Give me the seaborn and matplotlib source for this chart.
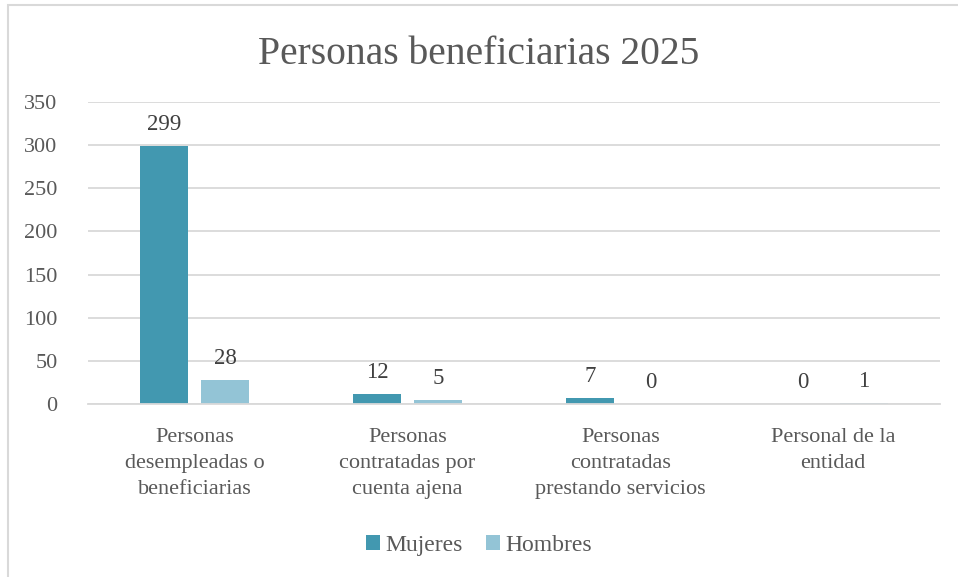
import matplotlib
matplotlib.use("Agg")
import matplotlib.pyplot as plt
import seaborn as sns
import pandas as pd
from matplotlib.patches import Rectangle

categories = [
    "Personas\ndesempleadas o\nbeneficiarias",
    "Personas\ncontratadas por\ncuenta ajena",
    "Personas\ncontratadas\nprestando servicios",
    "Personal de la\nentidad",
]
mujeres = [299, 12, 7, 0]
hombres = [28, 5, 0, 1]
series = ["Mujeres", "Hombres"]
colors = ["#4298B0", "#93C4D6"]
yticks = [0, 50, 100, 150, 200, 250, 300, 350]

df = pd.DataFrame({
    "categoria": categories * 2,
    "valor": mujeres + hombres,
    "serie": [series[0]] * len(categories) + [series[1]] * len(categories),
})

sns.set_theme(style="white")
plt.rcParams["font.family"] = ["Liberation Serif", "DejaVu Serif"]
text_color = "#595959"

fig = plt.figure(figsize=(9.58, 5.77), dpi=100)
ax = fig.add_axes([0.0919, 0.2998, 0.889, 0.5234])

sns.barplot(
    data=df, x="categoria", y="valor", hue="serie",
    palette=colors, width=0.573, gap=0.213, ax=ax,
    saturation=1, legend=True, linewidth=0,
)

for cont in ax.containers:
    ax.bar_label(cont, fmt="%d", padding=8, fontsize=16.5, color="#404040")

ax.set_ylim(0, 350)
ax.set_yticks(yticks)
ax.yaxis.grid(True, color="#D9D9D9", linewidth=1.3)
ax.set_axisbelow(True)
for s in ["top", "right", "left"]:
    ax.spines[s].set_visible(False)
ax.spines["bottom"].set_color("#D9D9D9")
ax.spines["bottom"].set_linewidth(1.3)
ax.tick_params(axis="both", length=0, labelsize=16, colors=text_color)
ax.tick_params(axis="y", pad=22)
ax.tick_params(axis="x", pad=17)
for lbl in ax.get_xticklabels():
    lbl.set_linespacing(1.5)
ax.set_xlabel("")
ax.set_ylabel("")

fig.text(0.5, 0.905, "Personas beneficiarias 2025", ha="center", va="center",
         fontsize=28.5, color=text_color)

handles, labels = ax.get_legend_handles_labels()
ax.legend(handles, labels, loc="center", bbox_to_anchor=(0.5, 0.055),
          bbox_transform=fig.transFigure, ncol=2, frameon=False,
          fontsize=17, labelcolor=text_color, handlelength=0.6,
          handleheight=0.6, handletextpad=0.2, columnspacing=1.0)

fig.add_artist(Rectangle((8 / 958, -0.1), 1.2, 1.1 - 5 / 577,
                         transform=fig.transFigure, fill=False,
                         edgecolor="#D9D9D9", linewidth=1.5))

fig.savefig("out.png", dpi=100)
